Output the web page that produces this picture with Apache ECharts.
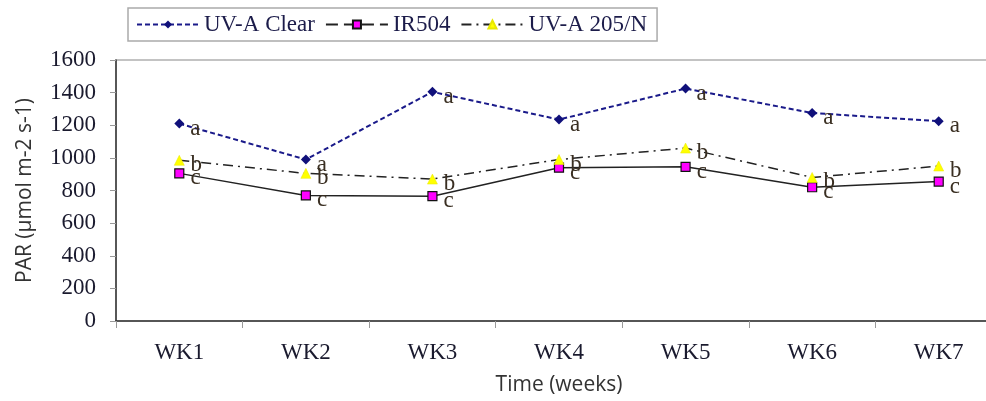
<!DOCTYPE html>
<html>
<head>
<meta charset="utf-8">
<script src="https://cdn.jsdelivr.net/npm/echarts@6/dist/echarts.min.js"></script>
<style>html,body{margin:0;padding:0;background:#fff}#c{width:986px;height:401px}</style>
</head>
<body>
<div id="c"></div>
<script>
var categories = ['WK1','WK2','WK3','WK4','WK5','WK6','WK7'];
var uvaClear = [1210, 990, 1405, 1235, 1425, 1275, 1225];
var ir504 = [905, 770, 765, 940, 945, 820, 855];
var uva205 = [985, 905, 870, 990, 1060, 880, 950];
var lettersClear = ['a','a','a','a','a','a','a'];
var letters504 = ['c','c','c','c','c','c','c'];
var letters205 = ['b','b','b','b','b','b','b'];
var yTicks = [0,200,400,600,800,1000,1200,1400,1600];

var serif = '"Liberation Serif","DejaVu Serif",serif';
var sans = '"Open Sans","Noto Sans",sans-serif';
var labelStyle = function(letters){
  return {show:true, position:'right', distance:6, offset:[0,5],
    fontFamily:serif, fontSize:23, color:'#3a2f22',
    formatter:function(p){return letters[p.dataIndex];}};
};

var chart = echarts.init(document.getElementById('c'));
chart.setOption({
  animation:false,
  grid:{left:116, top:60, height:261, width:886, outerBoundsMode:'none', containLabel:false,
        show:true, borderColor:'#b0b0b0', borderWidth:1.5},
  legend:{
    left:128, top:8, padding:[5,10,5,8], itemGap:10, itemWidth:62, itemHeight:10,
    borderColor:'#aaaaaa', borderWidth:1.5,
    textStyle:{fontFamily:serif, fontSize:23, color:'#1c1c4a'},
    data:[
      {name:'UV-A Clear'},
      {name:'IR504', lineStyle:{type:[12,6]}},
      {name:'UV-A 205/N'}
    ]
  },
  xAxis:{
    type:'category', data:categories, boundaryGap:true,
    axisLine:{lineStyle:{color:'#333', width:1.5}},
    axisTick:{show:true, length:7, lineStyle:{color:'#999'}},
    axisLabel:{margin:20, fontFamily:serif, fontSize:23, color:'#1a1a2e'},
    name:'Time (weeks)', nameLocation:'middle', nameGap:54,
    nameTextStyle:{fontFamily:sans, fontSize:21, color:'#333'}
  },
  yAxis:{
    type:'value', min:0, max:1600, interval:200,
    splitLine:{show:false},
    axisLine:{show:true, lineStyle:{color:'#333', width:1.5}},
    axisTick:{show:true, length:6, lineStyle:{color:'#999'}},
    axisLabel:{margin:20, fontFamily:serif, fontSize:23, color:'#1a1a2e',
      formatter:function(v){return yTicks.indexOf(v)>=0 ? String(v) : '';}},
    name:'PAR (µmol m-2 s-1)', nameLocation:'middle', nameGap:80, nameRotate:90,
    nameTextStyle:{fontFamily:sans, fontSize:21, color:'#333'}
  },
  series:[
    {name:'UV-A Clear', type:'line', data:uvaClear, symbol:'diamond', symbolSize:10,
     itemStyle:{color:'#10107a'}, lineStyle:{color:'#1a1a8a', width:2, type:[5,3]},
     label:labelStyle(lettersClear), z:3},
    {name:'IR504', type:'line', data:ir504, symbol:'rect', symbolSize:9,
     itemStyle:{color:'#ff00ff', borderColor:'#111', borderWidth:1.2},
     lineStyle:{color:'#222', width:1.5, type:'solid'},
     label:labelStyle(letters504), z:2},
    {name:'UV-A 205/N', type:'line', data:uva205, symbol:'triangle', symbolSize:10,
     itemStyle:{color:'#ffff00', borderColor:'#e8e800', borderWidth:0.5},
     lineStyle:{color:'#222', width:1.5, type:[10,5,2,5]},
     label:labelStyle(letters205), z:4}
  ]
});
</script>
</body>
</html>
